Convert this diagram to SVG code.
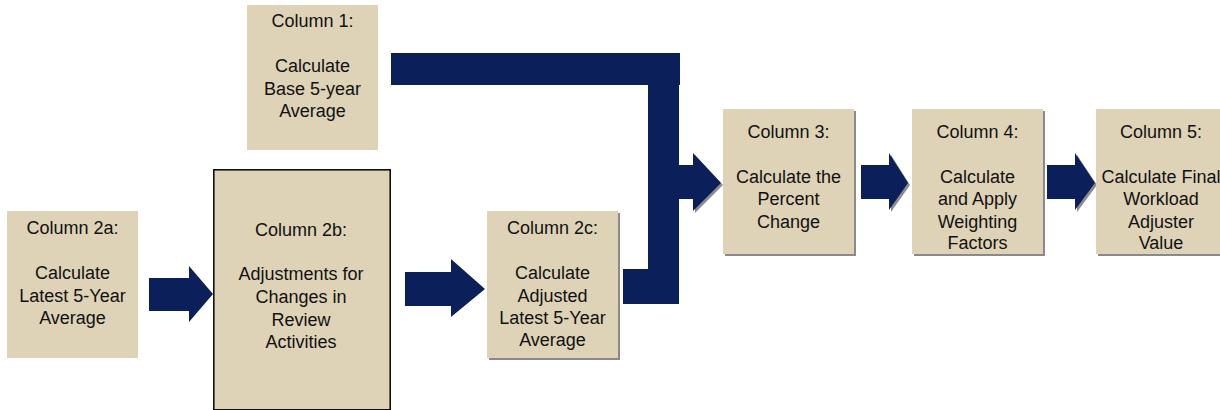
<svg xmlns="http://www.w3.org/2000/svg" width="1220" height="410" viewBox="0 0 1220 410">
  <style>
    .box { fill: #DED3B7; }
    .shadow { fill: #8A8A8A; }
    .framed { stroke: #111111; stroke-width: 1.6; }
    .flow { fill: #0B1F5B; }
    .flowshadow { fill: #8C8C8C; }
    text { font-family: "Liberation Sans", Arial, sans-serif; font-size: 18px; fill: #111111; text-anchor: middle; }
  </style>
  <rect width="1220" height="410" fill="#FFFFFF"/>

  <!-- connectors: block arrows and elbow bars -->
  <g id="connectors">
    <!-- shadows behind the right-hand arrowheads -->
    <polygon class="flowshadow" points="695,155 723,185 695,213"/>
    <polygon class="flowshadow" points="891,155 910,185 891,212"/>
    <polygon class="flowshadow" points="1077,155 1097,185 1077,212"/>

    <!-- Column 1 elbow: across, then down -->
    <polygon class="flow" points="391,53 680,53 680,85 679,85 679,304 648,304 648,85 391,85"/>
    <!-- Column 2c elbow: across, then up -->
    <polygon class="flow" points="623,269 648,269 648,200 675,200 675,304 623,304"/>
    <!-- merged arrow into Column 3 -->
    <polygon class="flow" points="676,165 693,165 693,153 721,183 693,211 693,199 676,199"/>

    <!-- 2a to 2b -->
    <polygon class="flow" points="149,278 189,278 189,266 213,294 189,322 189,311 149,311"/>
    <!-- 2b to 2c -->
    <polygon class="flow" points="405,272 451,272 451,259 485,289 451,317 451,306 405,306"/>
    <!-- 3 to 4 -->
    <polygon class="flow" points="861,165 889,165 889,153 908,183 889,210 889,199 861,199"/>
    <!-- 4 to 5 -->
    <polygon class="flow" points="1047,165 1075,165 1075,153 1095,183 1075,210 1075,199 1047,199"/>
  </g>

  <g id="col1">
    <rect class="box" x="247" y="5" width="131" height="145"/>
    <text x="312.5" y="27">Column 1:</text>
    <text x="312.5" y="72">Calculate</text>
    <text x="312.5" y="95">Base 5-year</text>
    <text x="312.5" y="117">Average</text>
  </g>

  <g id="col2a">
    <rect class="box" x="7" y="211" width="131" height="147"/>
    <text x="72.5" y="234">Column 2a:</text>
    <text x="72.5" y="279">Calculate</text>
    <text x="72.5" y="302">Latest 5-Year</text>
    <text x="72.5" y="324">Average</text>
  </g>

  <g id="col2b">
    <rect class="box framed" x="213.8" y="169.8" width="176.4" height="240"/>
    <text x="301" y="236">Column 2b:</text>
    <text x="301" y="280">Adjustments for</text>
    <text x="301" y="303">Changes in</text>
    <text x="301" y="326">Review</text>
    <text x="301" y="348">Activities</text>
  </g>

  <g id="col2c">
    <rect class="shadow" x="489" y="213" width="131" height="147"/>
    <rect class="box" x="487" y="211" width="131" height="147"/>
    <text x="552.5" y="234">Column 2c:</text>
    <text x="552.5" y="279">Calculate</text>
    <text x="552.5" y="302">Adjusted</text>
    <text x="552.5" y="324">Latest 5-Year</text>
    <text x="552.5" y="346">Average</text>
  </g>

  <g id="col3">
    <rect class="shadow" x="725" y="111" width="131" height="145"/>
    <rect class="box" x="723" y="109" width="131" height="145"/>
    <text x="788.5" y="138">Column 3:</text>
    <text x="788.5" y="183">Calculate the</text>
    <text x="788.5" y="205">Percent</text>
    <text x="788.5" y="228">Change</text>
  </g>

  <g id="col4">
    <rect class="shadow" x="914" y="111" width="131" height="145"/>
    <rect class="box" x="912" y="109" width="131" height="145"/>
    <text x="977.5" y="138">Column 4:</text>
    <text x="977.5" y="183">Calculate</text>
    <text x="977.5" y="205">and Apply</text>
    <text x="977.5" y="228">Weighting</text>
    <text x="977.5" y="249">Factors</text>
  </g>

  <g id="col5">
    <rect class="shadow" x="1098" y="111" width="131" height="145"/>
    <rect class="box" x="1096" y="109" width="131" height="145"/>
    <text x="1161" y="138">Column 5:</text>
    <text x="1161" y="183">Calculate Final</text>
    <text x="1161" y="205">Workload</text>
    <text x="1161" y="228">Adjuster</text>
    <text x="1161" y="249">Value</text>
  </g>
</svg>
